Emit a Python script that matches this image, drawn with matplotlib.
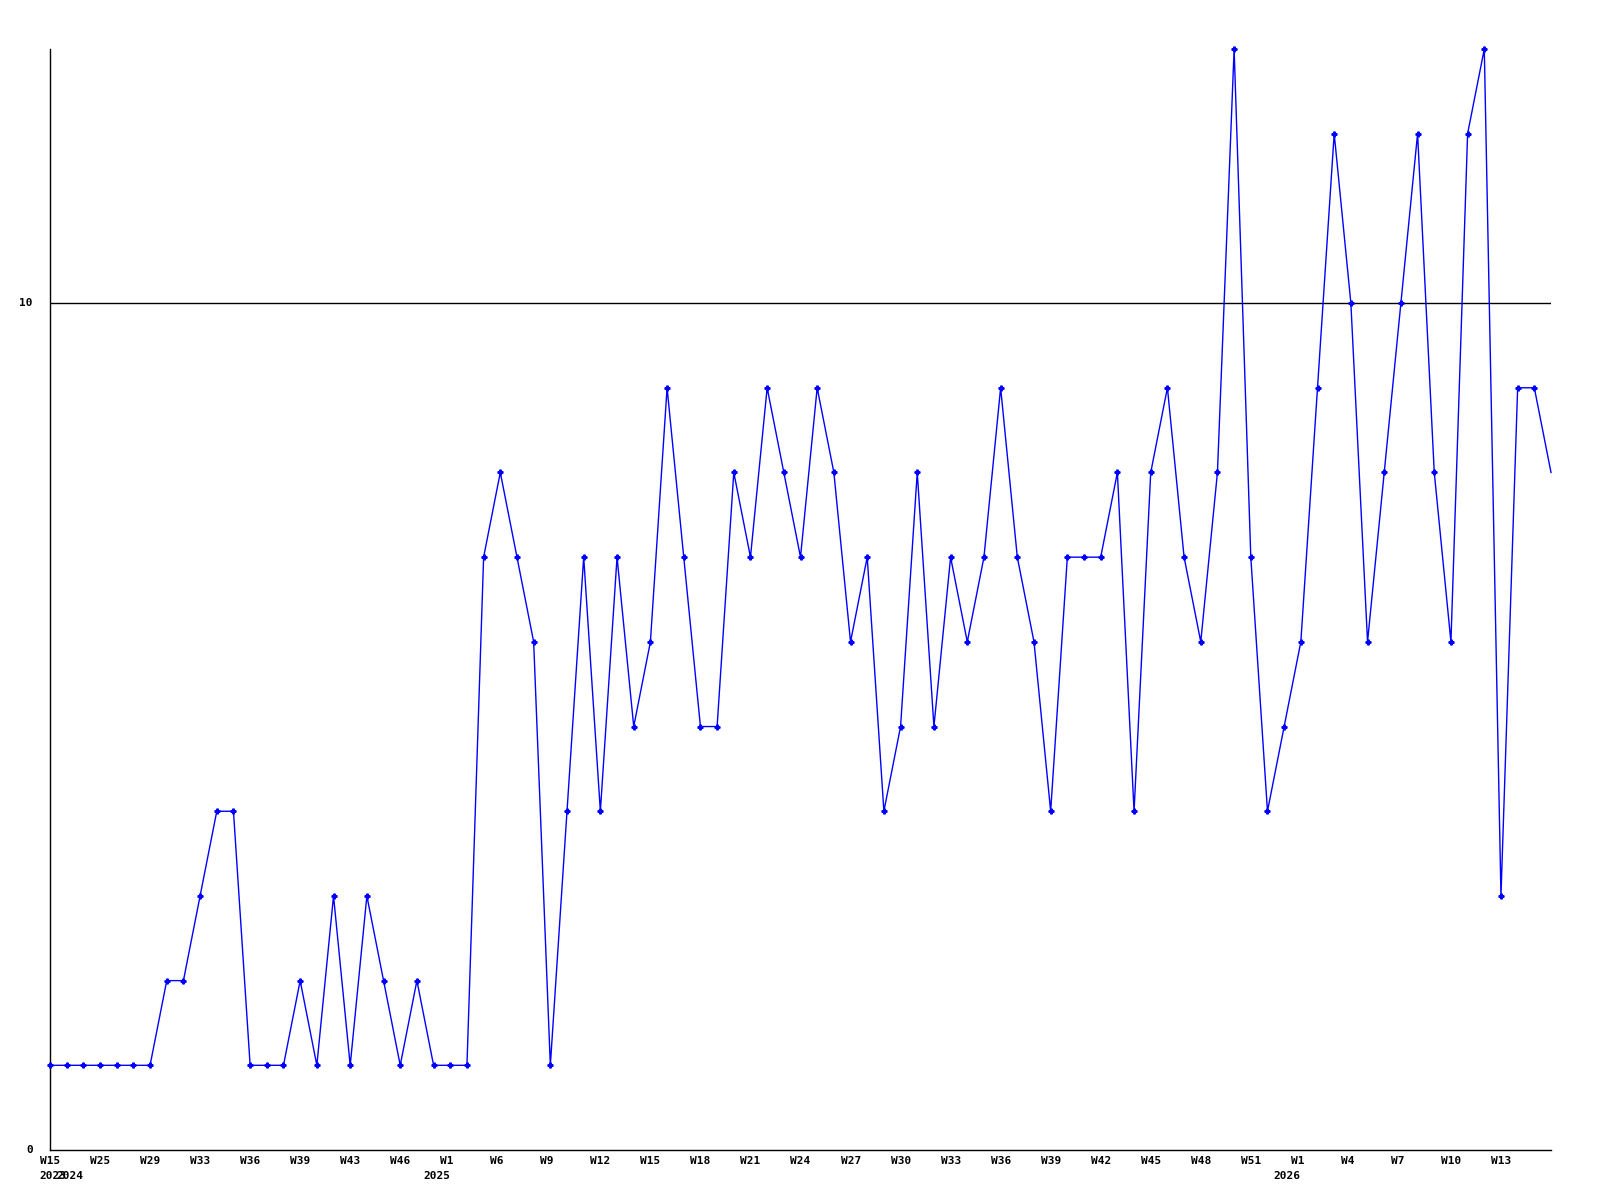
import matplotlib
matplotlib.use('Agg')
import numpy as np
import matplotlib.pyplot as plt

# weekly values, one per point
values = [1, 1, 1, 1, 1, 1, 1, 2, 2, 3,
          4, 4, 1, 1, 1, 2, 1, 3, 1, 3,
          2, 1, 2, 1, 1, 1, 7, 8, 7, 6,
          1, 4, 7, 4, 7, 5, 6, 9, 7, 5,
          5, 8, 7, 9, 8, 7, 9, 8, 6, 7,
          4, 5, 8, 5, 7, 6, 7, 9, 7, 6,
          4, 7, 7, 7, 8, 4, 8, 9, 7, 6,
          8, 13, 7, 4, 5, 6, 9, 12, 10, 6,
          8, 10, 12, 8, 6, 12, 13, 3, 9, 9,
          8]

week_labels = ['W15', 'W25', 'W29', 'W33', 'W36', 'W39', 'W43', 'W46', 'W1', 'W6',
               'W9', 'W12', 'W15', 'W18', 'W21', 'W24', 'W27', 'W30', 'W33', 'W36',
               'W39', 'W42', 'W45', 'W48', 'W51', 'W1', 'W4', 'W7', 'W10', 'W13']
week_label_idx = list(range(0, 88, 3))

year_labels = ['2023', '2024', '2025', '2026']
year_label_idx = [1, 2, 24, 75]

y_ticks = [0, 10]

x = np.arange(len(values))
font = dict(family='DejaVu Sans Mono', weight='bold', size=8)

fig = plt.figure(figsize=(16, 12), dpi=100)
ax = fig.add_axes([50 / 1600, 1 - 1150 / 1200, 1501 / 1600, 1101 / 1200])

ax.plot(x, values, color='#0000ff', linewidth=1.0, clip_on=False, zorder=3)
ax.plot(x[:-1], values[:-1], linestyle='none', marker='P', markersize=3.5,
        color='#0000ff', clip_on=False, zorder=4)

ax.axhline(10, color='black', linewidth=1)

ax.set_xlim(0, len(values) - 1)
ax.set_ylim(0, 13)
ax.spines['top'].set_visible(False)
ax.spines['right'].set_visible(False)
ax.spines['left'].set_linewidth(1)
ax.spines['bottom'].set_linewidth(1)
ax.set_xticks([])
ax.set_yticks([])

for i, lab in zip(week_label_idx, week_labels):
    ax.annotate(lab, xy=(i, 0), xycoords=('data', 'axes fraction'),
                xytext=(-10, -6), textcoords='offset pixels',
                ha='left', va='top', **font)

# year labels overlap at the start, as in the source
for i, lab in zip(year_label_idx, year_labels):
    ax.annotate(lab, xy=(i, 0), xycoords=('data', 'axes fraction'),
                xytext=(0, -21), textcoords='offset pixels',
                ha='right', va='top', **font)

for v in y_ticks:
    ax.annotate(str(v), xy=(0, v), xycoords=('axes fraction', 'data'),
                xytext=(-17, 0), textcoords='offset pixels',
                ha='right', va='center', **font)

fig.savefig('out.png', dpi=100)
